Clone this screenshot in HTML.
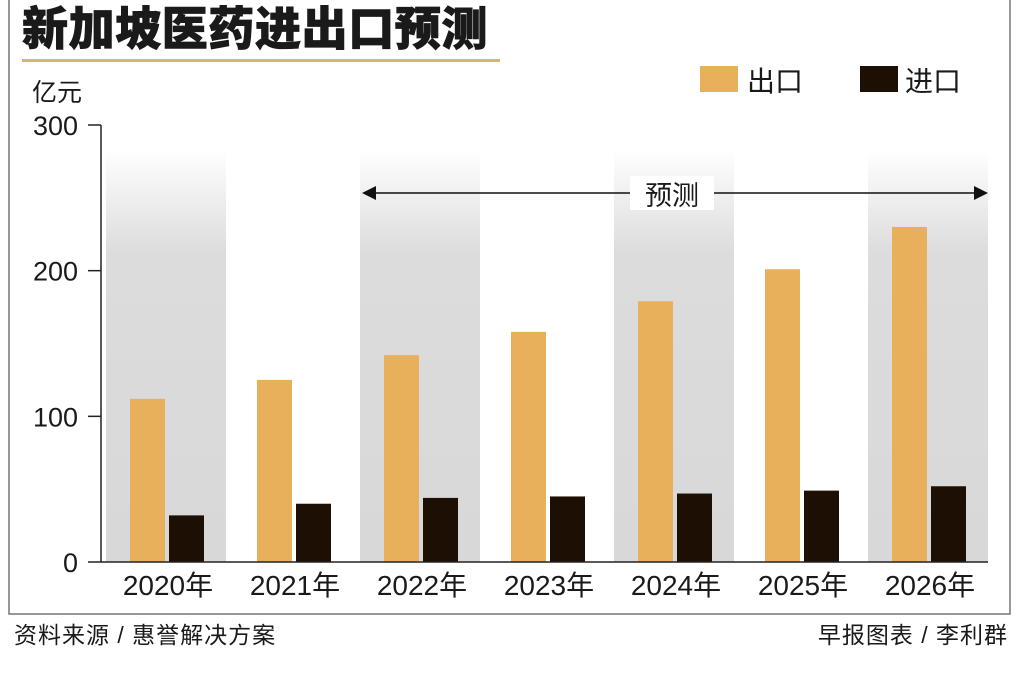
<!DOCTYPE html>
<html><head><meta charset="utf-8"><style>
body{margin:0;background:#fff;}
svg text{font-family:"Liberation Sans","Noto Sans CJK SC",sans-serif;fill:#1a1a1a;}
</style></head><body>
<svg width="1024" height="682" viewBox="0 0 1024 682">
<defs><linearGradient id="bg" x1="0" y1="0" x2="0" y2="1">
<stop offset="0" stop-color="#fff"/><stop offset="0.25" stop-color="#dcdcdc"/><stop offset="1" stop-color="#d8d8d8"/></linearGradient></defs>
<path d="M9 0V614H1010V0" fill="none" stroke="#777" stroke-width="1.5"/>
<text x="22" y="45" font-size="46" font-weight="900" letter-spacing="0.6" stroke="#1a1a1a" stroke-width="0.8">新加坡医药进出口预测</text>
<rect x="22" y="59" width="478" height="3" fill="#d9b46a"/>
<text x="32" y="101" font-size="25">亿元</text>
<rect x="700" y="66" width="38" height="26" fill="#e8b05a"/>
<text x="747" y="91" font-size="28">出口</text>
<rect x="860" y="66" width="38" height="26" fill="#1e0f05"/>
<text x="905" y="91" font-size="28">进口</text>
<g id="bands"></g>
<g id="bars"></g>
<g id="axes"></g>
<g>
<line x1="372" y1="193" x2="978" y2="193" stroke="#111" stroke-width="1.5"/>
<path d="M362 193L376 186V200Z" fill="#111"/><path d="M988 193L974 186V200Z" fill="#111"/>
<rect x="630" y="176" width="84" height="34" fill="#fff"/>
<text x="672" y="205" font-size="27" text-anchor="middle">预测</text>
</g>
<text x="14" y="643" font-size="23" letter-spacing="1">资料来源 / 惠誉解决方案</text>
<text x="1008" y="643" font-size="23" letter-spacing="1" text-anchor="end">早报图表 / 李利群</text>
</svg>
<script>
const categories=["2020年","2021年","2022年","2023年","2024年","2025年","2026年"];
const exportValues=[112,125,142,158,179,201,230];
const importValues=[32,40,44,45,47,49,52];
const yTicks=[0,100,200,300];
const NS="http://www.w3.org/2000/svg";
const y0=562,yTop=125,yMax=300;
function y(v){return y0-(v/yMax)*(y0-yTop);}
function gx(i){return 106+i*127;}
function mk(t,a,p){const e=document.createElementNS(NS,t);for(const k in a)e.setAttribute(k,a[k]);p.appendChild(e);return e;}
const bands=document.getElementById('bands'),bars=document.getElementById('bars'),axes=document.getElementById('axes');
categories.forEach((c,i)=>{
  if(i%2===0){const b=mk('rect',{x:gx(i),y:150,width:120,height:y0-150,fill:'url(#bg)'},bands);
  
  }
  const e=mk('rect',{x:gx(i)+24,y:y(exportValues[i]),width:35,height:y0-y(exportValues[i]),fill:'#e8b05a'},bars);
  
  
  const m=mk('rect',{x:gx(i)+63,y:y(importValues[i]),width:35,height:y0-y(importValues[i]),fill:'#1e0f05'},bars);
  
  
  const t=mk('text',{x:gx(i)+62,y:595,'font-size':28,'text-anchor':'middle'},axes);t.textContent=c;
  
  
});
const ya=mk('line',{x1:101,y1:yTop,x2:101,y2:y0,stroke:'#222','stroke-width':1.5},axes);


const xa=mk('line',{x1:101,y1:y0,x2:988,y2:y0,stroke:'#222','stroke-width':1.5},axes);


yTicks.forEach(v=>{
  mk('line',{x1:88,y1:y(v),x2:101,y2:y(v),stroke:'#222','stroke-width':1.5},axes);
  const t=mk('text',{x:78,y:y(v)+10,'font-size':27,'text-anchor':'end'},axes);t.textContent=v;
  
  
});
</script>
</body></html>
